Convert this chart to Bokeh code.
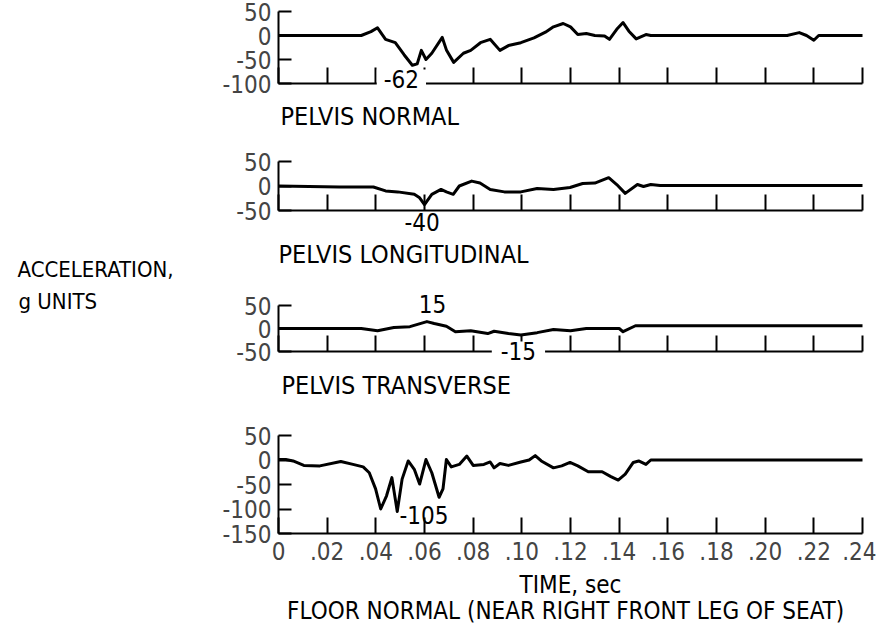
from bokeh.plotting import figure
from bokeh.layouts import column
from bokeh.models import Range1d, FixedTicker, Label
from bokeh.embed import file_html
from bokeh.resources import INLINE

FONT = "DejaVu Sans Condensed"

# ---- data ----
time_ticks = [0, 0.02, 0.04, 0.06, 0.08, 0.10, 0.12, 0.14, 0.16, 0.18, 0.20, 0.22, 0.24]
time_labels = ["0", ".02", ".04", ".06", ".08", ".10", ".12", ".14", ".16", ".18", ".20", ".22", ".24"]

pn_t = [0, 0.034, 0.038, 0.0407, 0.044, 0.048, 0.0516, 0.055, 0.057, 0.0587, 0.0606, 0.063, 0.0673, 0.069,
        0.072, 0.076, 0.079, 0.083, 0.087, 0.0886, 0.091, 0.0945, 0.0996, 0.105, 0.1097, 0.113, 0.117, 0.12,
        0.123, 0.1265, 0.13, 0.134, 0.136, 0.139, 0.1416, 0.144, 0.147, 0.151, 0.153, 0.209, 0.214, 0.217,
        0.22, 0.222, 0.24]
pn_v = [0, 0, 8, 16, -8, -15, -40, -62, -59, -31, -50, -37, -4, -30,
        -56, -37, -31, -15, -8, -17, -31, -21, -15, -5, 7, 18, 25, 18,
        2, 4, 0, -1, -8, 13, 27, 9, -7, 2, 0, 0, 6, 0,
        -10, 0, 0]

pl_t = [0, 0.025, 0.039, 0.044, 0.049, 0.0558, 0.058, 0.060, 0.063, 0.0668, 0.069, 0.0718, 0.0743, 0.0794,
        0.0828, 0.087, 0.0928, 0.0996, 0.1063, 0.113, 0.1198, 0.125, 0.13, 0.1357, 0.139, 0.1425, 0.1475,
        0.150, 0.153, 0.1568, 0.24]
pl_v = [0, -2, -2, -10, -12, -17, -24, -38, -17, -7, -12, -17, 0, 10,
        6, -7, -12, -12, -5, -7, -3, 5, 6, 17, 3, -15, 3,
        -1, 3, 1, 1]

pt_t = [0, 0.034, 0.0407, 0.0474, 0.054, 0.061, 0.064, 0.069, 0.0727, 0.079, 0.086, 0.0886, 0.0945,
        0.0996, 0.1063, 0.113, 0.12, 0.1265, 0.14, 0.1416, 0.1467, 0.24]
pt_v = [0, 0, -5, 2, 4, 15, 11, 5, -7, -5, -11, -6, -11,
        -14, -9, -2, -5, 0, 0, -7, 6, 6]

fn_t = [0, 0.003, 0.006, 0.0104, 0.017, 0.0256, 0.0306, 0.0348, 0.0373, 0.0399, 0.042, 0.0444, 0.0466,
        0.0488, 0.0508, 0.0533, 0.0558, 0.058, 0.0606, 0.063, 0.066, 0.0676, 0.069, 0.071, 0.0743, 0.0774,
        0.080, 0.0844, 0.087, 0.0886, 0.091, 0.0945, 0.0996, 0.103, 0.1055, 0.108, 0.113, 0.1164, 0.1198,
        0.123, 0.1273, 0.133, 0.1366, 0.1396, 0.1425, 0.1458, 0.148, 0.151, 0.153, 0.24]
fn_v = [1, 1, -2, -11, -12, -3, -9, -14, -26, -59, -100, -73, -36,
        -105, -39, -2, -19, -49, 1, -26, -76, -59, 1, -14, -9, 8,
        -11, -9, -4, -16, -7, -11, -4, 0, 9, -2, -16, -12, -5,
        -12, -24, -24, -34, -41, -29, -5, -2, -9, 0, 0]

pn_ticks = [-100, -50, 0, 50]
pl_ticks = [-50, 0, 50]
pt_ticks = [-50, 0, 50]
fn_ticks = [-150, -100, -50, 0, 50]

panel_titles = ["PELVIS NORMAL", "PELVIS LONGITUDINAL", "PELVIS TRANSVERSE",
                "FLOOR NORMAL (NEAR RIGHT FRONT LEG OF SEAT)"]
y_title = ["ACCELERATION,", "g UNITS"]
x_title = "TIME, sec"

# ---- layout constants (page pixels) ----
PAGE_L, PAGE_R = 8, 884          # figure horizontal extent
AX_L, AX_R = 286, 870            # pixel of t=0 and t=0.24
T_MAX = 0.24
FS = "24px"
TS = "25px"


def lbl(text, x, y, xo=0, yo=0, align="left", bg=None, pad=(0, 0), size=FS):
    kw = {}
    if bg:
        kw = dict(background_fill_color=bg, padding=pad)
    return Label(x=x, y=y, x_offset=xo, y_offset=yo, text=text, text_font=FONT,
                 text_font_size=size, text_align=align, text_baseline="middle",
                 text_color="black", **kw)


def panel(t, v, lo, hi, yticks, fig_top, fig_bot, ax_top, ax_bot, show_x):
    sx = (AX_R - AX_L) / T_MAX
    x0 = (PAGE_L - AX_L) / sx
    x1 = (PAGE_R - AX_L) / sx
    sy = (ax_bot - ax_top) / (hi - lo)
    y0 = lo - (fig_bot - ax_bot) / sy
    y1 = hi + (ax_top - fig_top) / sy
    p = figure(width=PAGE_R - PAGE_L, height=fig_bot - fig_top,
               x_range=Range1d(x0, x1), y_range=Range1d(y0, y1),
               output_backend="svg", toolbar_location=None,
               min_border=0, min_border_left=0, min_border_right=0,
               min_border_top=0, min_border_bottom=0)
    p.grid.visible = False
    p.outline_line_color = None
    p.background_fill_color = "white"
    p.border_fill_color = "white"
    p.line(t, v, line_width=3, color="black", line_join="round")

    xa = p.xaxis[0]
    xa.fixed_location = lo
    xa.bounds = (0, T_MAX)
    xa.ticker = FixedTicker(ticks=time_ticks, minor_ticks=[])
    xa.axis_line_width = 2
    xa.major_tick_line_width = 2
    xa.major_tick_in = 16
    xa.major_tick_out = 0
    xa.minor_tick_in = 0
    xa.minor_tick_out = 0
    if show_x:
        xa.major_label_overrides = {k: s for k, s in zip(time_ticks, time_labels)}
        xa.major_label_text_font = FONT
        xa.major_label_text_font_size = FS
        xa.major_label_standoff = 8
    else:
        xa.major_label_text_color = None

    ya = p.yaxis[0]
    ya.fixed_location = 0
    ya.bounds = (lo, hi)
    ya.ticker = FixedTicker(ticks=yticks, minor_ticks=[])
    ya.major_label_overrides = {k: str(k) for k in yticks}
    ya.axis_line_width = 2
    ya.major_tick_line_width = 2
    ya.major_tick_in = 13
    ya.major_tick_out = 0
    ya.minor_tick_in = 0
    ya.minor_tick_out = 0
    ya.major_label_text_font = FONT
    ya.major_label_text_font_size = FS
    ya.major_label_standoff = 7
    return p


p1 = panel(pn_t, pn_v, -100, 50, pn_ticks, 8, 145, 19, 91, False)
p1.add_layout(lbl(panel_titles[0], 0, -100, xo=2, yo=-33, size=TS))
p1.add_layout(lbl("-62", 0.0505, -100, yo=5, align="center", bg="white", pad=(7, 0)))

p2 = panel(pl_t, pl_v, -50, 50, pl_ticks, 145, 293, 169, 218, False)
p2.add_layout(lbl(panel_titles[1], 0, -50, xo=0, yo=-44, size=TS))
p2.add_layout(lbl("-40", 0.059, -50, yo=-11, align="center", bg="white", pad=(9, 0)))
p2.add_layout(lbl(y_title[0], 0, -50, xo=-261, yo=-59, size="22px"))

p3 = panel(pt_t, pt_v, -50, 50, pt_ticks, 293, 415, 313, 359, False)
p3.add_layout(lbl(panel_titles[2], 0, -50, xo=3, yo=-34, size=TS))
p3.add_layout(lbl("15", 0.0633, 50, yo=2, align="center"))
p3.add_layout(lbl("-15", 0.0986, -50, yo=1, align="center", bg="white", pad=(9, 0)))
p3.add_layout(lbl(y_title[1], 0, 50, xo=-260, yo=4, size="22px"))

p4 = panel(fn_t, fn_v, -150, 50, fn_ticks, 415, 634, 443, 541, True)
p4.add_layout(lbl("-105", 0.0497, -150, yo=19))
p4.add_layout(lbl(x_title, 0.12, -150, yo=-51, align="center"))
p4.add_layout(lbl(panel_titles[3], 0.118, -150, yo=-77, align="center"))

layout = column(p1, p2, p3, p4, spacing=0)
open("out.html", "w").write(file_html(layout, INLINE))
